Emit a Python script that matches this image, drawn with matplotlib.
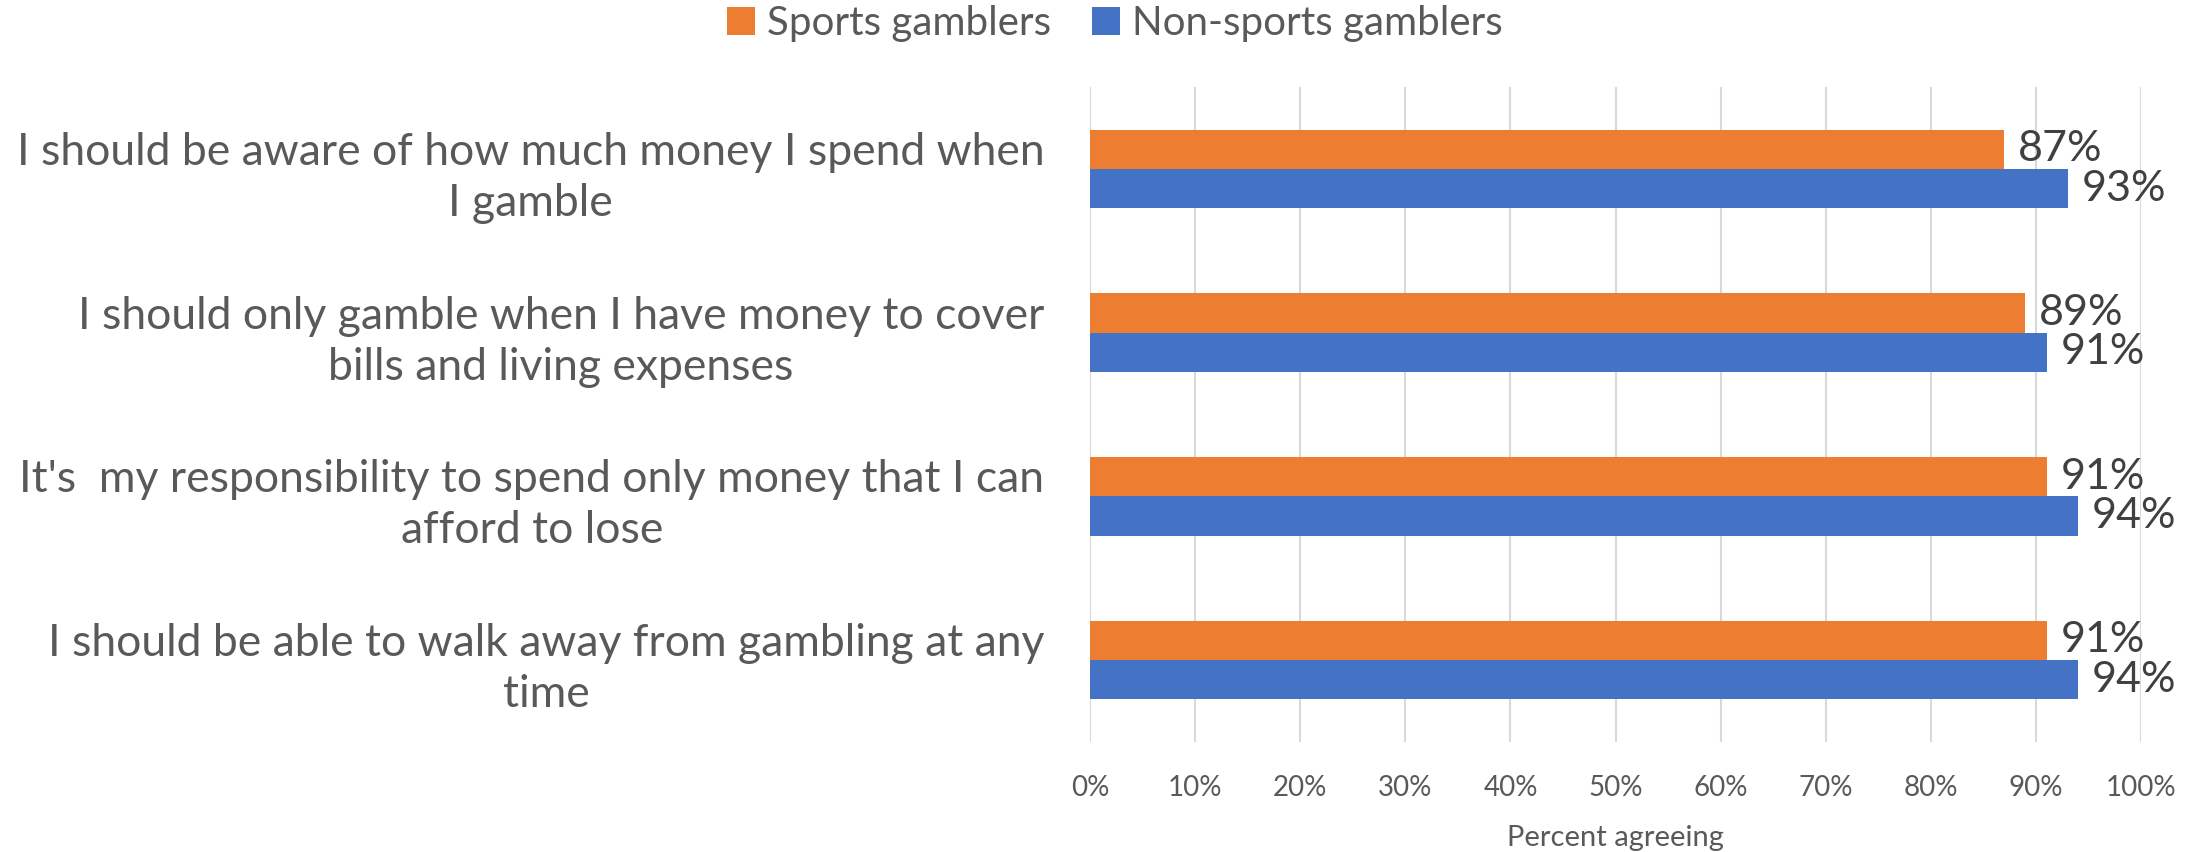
import matplotlib.pyplot as plt
import numpy as np
from matplotlib.ticker import PercentFormatter

plt.rcParams['font.family'] = ['Lato', 'DejaVu Sans']

categories = [
    "I should be aware of how much money I spend when\nI gamble",
    "I should only gamble when I have money to cover\nbills and living expenses",
    "It's  my responsibility to spend only money that I can\nafford to lose",
    "I should be able to walk away from gambling at any\ntime",
]
sports = [87, 89, 91, 91]
non_sports = [93, 91, 94, 94]
series_names = ["Sports gamblers", "Non-sports gamblers"]
colors = ["#ED7D31", "#4472C4"]
text_color = "#595959"

fig = plt.figure(figsize=(22.03, 8.52), dpi=100)
ax = fig.add_axes([0.4948, 0.1291, 0.4771, 0.7688])

y = np.arange(len(categories))
h = 0.24
bars_s = ax.barh(y - h / 2, sports, height=h, color=colors[0], label=series_names[0], zorder=3)
bars_n = ax.barh(y + h / 2, non_sports, height=h, color=colors[1], label=series_names[1], zorder=3)

for bars in (bars_s, bars_n):
    ax.bar_label(bars, labels=[f"{v:.0f}%" for v in bars.datavalues], padding=10,
                 fontsize=31, color="#404040")

ax.set_xlim(0, 100)
ax.set_ylim(len(categories) - 0.5, -0.5)
ax.set_xticks(np.arange(0, 101, 10))
ax.xaxis.set_major_formatter(PercentFormatter(decimals=0))
ax.set_yticks(y)
ax.set_yticklabels(categories, multialignment="center", linespacing=1.3)
ax.tick_params(axis="y", length=0, pad=33, labelsize=32, labelcolor=text_color)
ax.tick_params(axis="x", length=0, pad=24, labelsize=20, labelcolor=text_color)
ax.grid(axis="x", color="#D9D9D9", linewidth=1.5, zorder=0)
for s in ax.spines.values():
    s.set_visible(False)
ax.set_xlabel("Percent agreeing", fontsize=21, color=text_color, labelpad=17)

fig.legend(loc="center", bbox_to_anchor=(0.506, 0.972), ncol=2, frameon=False,
           fontsize=29, labelcolor=text_color, handlelength=0.7, handleheight=0.7,
           handletextpad=0.3, columnspacing=1.0)

fig.savefig("out.png", dpi=100)
